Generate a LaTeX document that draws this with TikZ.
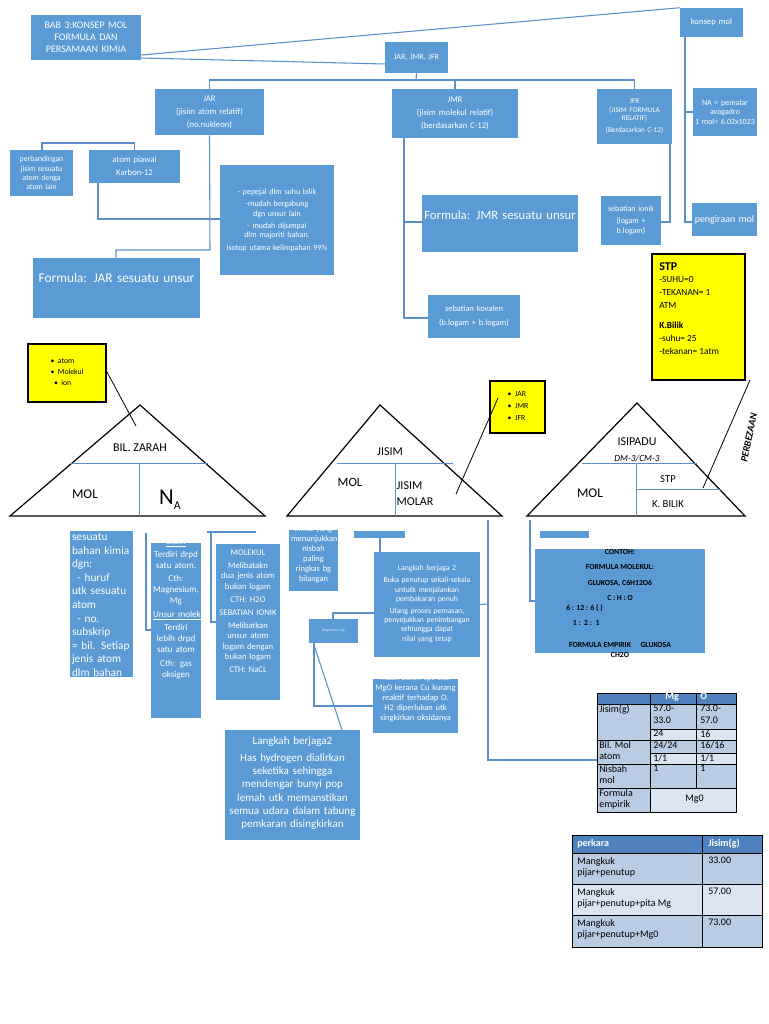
\documentclass[tikz,border=0pt]{standalone}
\usepackage{fontspec}
\setmainfont{Carlito}
\definecolor{bl}{HTML}{5B9BD5}
\definecolor{ln}{HTML}{5B8FC9}
\definecolor{hd}{HTML}{4F81BD}
\definecolor{r1}{HTML}{B8CCE4}
\definecolor{r2}{HTML}{DBE5F1}
\definecolor{yl}{HTML}{FFFF00}
% \bx{name}{x1}{y1}{x2}{y2}{textY}{fontsize}{text}{extra node options}
\newcommand\bx[9]{%
  \node[fill=bl,inner sep=0,minimum width={(#4-#2)*0.75pt},minimum height={(#5-#3)*0.75pt}] (#1) at ({(#2+#4)/2},{(#3+#5)/2}) {};
  \begin{scope}\clip (#2,#3) rectangle (#4,#5);
  \node[white,align=center,text width={(#4-#2-4)*0.75pt},inner sep=0,font={\fontsize{#7pt}{\dimexpr #7pt*6/5\relax}\selectfont\hyphenpenalty=10000\relax\exhyphenpenalty=10000\relax},#9] (#1t) at ({(#2+#4)/2},#6) {#8};
  \end{scope}}
\begin{document}
\begin{tikzpicture}[x=0.75pt,y=-0.75pt,
  cn/.style={draw=ln,line width=0.8pt},
  bk/.style={draw=black,line width=0.7pt},
  tri/.style={draw=black,line width=0.9pt},
  tl/.style={font=\fontsize{9}{10}\selectfont},
  yb/.style={fill=yl,draw=black,line width=0.8pt,inner sep=0}]
\useasboundingbox (0,0) rectangle (768,1024);
% top boxes
\bx{title}{31}{15}{141}{60}{37}{7.5}{BAB 3:KONSEP MOL FORMULA DAN PERSAMAAN KIMIA}{}
\bx{konsep}{680}{8}{743}{37}{22}{6.5}{konsep mol}{}
\bx{jjj}{385}{42}{448}{73}{57}{6}{JAR, JMR, JFR}{}
\bx{jar}{155}{89}{264}{135}{112}{6.5}{JAR\\[2pt](jisim atom relatif)\\[2pt](no.nukleon)}{}
\bx{jmr}{392}{89}{518}{138}{113}{6.5}{JMR\\[2pt](jisim molekul relatif)\\[2pt](berdasarkan C-12)}{}
\bx{jfr}{597}{89}{672}{144}{116}{5.5}{JFR\\(JISIM FORMULA RELATIF)\\[2pt](Berdasarkan C-12)}{}
\bx{na}{693}{88}{757}{136}{112}{6}{NA = pemalar avogadro\\1 mol= 6.02x1023}{}
\bx{peng}{692}{203}{757}{236}{220}{7.5}{pengiraan mol}{}
\bx{perb}{10}{150}{73}{196}{173}{5.8}{perbandingan jisim sesuatu atom denga atom lain}{}
\bx{piawai}{89}{150}{180}{183}{166}{6.5}{atom piawai\\[2pt]Karbon-12}{}
\bx{pepejal}{220}{165}{334}{275}{220}{6}{- pepejal dlm suhu bilik\\[2pt]-mudah bergabung dgn unsur lain\\[2pt]- mudah dijumpai dlm majoriti bahan.\\[2pt]isotop utama kelimpahan 99\%}{}
\bx{fjar}{33}{258}{200}{318}{278}{10}{Formula: JAR sesuatu unsur}{}
\bx{fjmr}{422}{195}{578}{252}{215}{9.5}{Formula: JMR sesuatu unsur}{}
\bx{kov}{428}{295}{520}{338}{316}{6.3}{sebatian kovalen\\[3pt](b.logam + b.logam)}{}
\bx{ionik}{601}{196}{661}{245}{220}{6}{sebatian ionik\\[2pt](logam + b.logam)}{}
% top connectors
\draw[cn] (title.east|-0,55) -- (konsep.north west);
\draw[cn] (title.east|-0,58) -- (jjj.west|-0,64);
\draw[cn] (jjj.south) -- (416,80) coordinate (t1);
\draw[cn] (jar.north) |- (t1) -| (jfr.north);
\draw[cn] (jmr.north|-t1) -- (jmr.north);
\draw[cn] (685,37) -- (685,222) coordinate (k2) -- (peng.west|-k2);
\draw[cn] (685,112) -- (na.west|-0,112);
\draw[cn] (jar.south) -- (210,250) -- (116,250) -- (fjar.north-|116,0);
\draw[cn] (42,150) -- (42,143) -| (piawai.north);
\draw[cn] (98,183) -- (98,219) -- (pepejal.west|-0,219);
\draw[cn] (404,138) -- (404,318) -- (kov.west|-0,318);
\draw[cn] (404,222) -- (fjmr.west|-0,222);
\draw[cn] (jfr.south-|670,0) -- (670,222) -- (ionik.east|-0,222);
% yellow boxes
\node[yb,minimum width={93*0.75pt},minimum height={126*0.75pt}] (stp) at (698.5,317) {};
\node[anchor=north west,align=left,inner sep=0,font=\fontsize{7}{9.5}\selectfont] (stpt) at (659,262) {{\fontsize{9}{10}\selectfont\bfseries STP}\\-SUHU=0\\-TEKANAN= 1\\ATM\\[6pt]{\bfseries K.Bilik}\\-suhu= 25\\-tekanan= 1atm};
\node[yb,minimum width={78*0.75pt},minimum height={58*0.75pt}] (y1) at (67,373) {};
\node[font=\fontsize{5.8}{8.5}\selectfont,align=left,inner sep=0] (y1t) at (67,372) {\textbullet\ \ atom\\\textbullet\ \ Molekul\\ \ \ \textbullet\ \ ion};
\node[yb,minimum width={55*0.75pt},minimum height={52*0.75pt}] (y2) at (517.5,407) {};
\node[font=\fontsize{5.8}{9}\selectfont,align=left,inner sep=0] (y2t) at (518,406) {\textbullet\ \ JAR\\\textbullet\ \ JMR\\\textbullet\ \ JFR};
% triangles
\draw[tri] (140,405) coordinate (a1) -- (265,516) -- (10,516) -- cycle;
\draw[ln,line width=0.7pt] (70,463) -- (208,463); \draw[ln,line width=0.7pt] (139,463) -- (139,516);
\node[tl] (bz) at (140,448) {BIL. ZARAH};
\node[font=\fontsize{10}{12}\selectfont] (m1) at (85,494) {MOL};
\node[font=\fontsize{17}{18}\selectfont] (nA) at (170,500) {N\raisebox{-4pt}{\fontsize{9}{10}\selectfont A}};
\draw[line width=0.6pt] (107,372) -- (136,426);
\draw[tri] (380,405) -- (502,516) -- (287,516) -- cycle;
\draw[ln,line width=0.7pt] (337,463) -- (453,463); \draw[ln,line width=0.7pt] (395,463) -- (395,516);
\node[tl] (js) at (390,452) {JISIM};
\node[font=\fontsize{9.5}{11}\selectfont] (m2) at (350,482) {MOL};
\node[font=\fontsize{9}{12}\selectfont,align=left] (jm) at (415,494) {JISIM\\MOLAR};
\draw[line width=0.6pt] (498,398) -- (456,494);
\draw[tri] (637,403) -- (745,516) -- (527,516) -- cycle;
\draw[ln,line width=0.7pt] (582,463) -- (697,463); \draw[ln,line width=0.7pt] (636,463) -- (636,516);
\draw[ln,line width=0.7pt] (636,489) -- (721,489);
\node[tl] (isi) at (637,442) {ISIPADU};
\node[font=\itshape\fontsize{7}{8}\selectfont] (dm) at (637,459) {DM-3/CM-3};
\node[font=\fontsize{10}{12}\selectfont] (m3) at (590,493) {MOL};
\node[font=\fontsize{8}{10}\selectfont] (stpl) at (668,479) {STP};
\node[font=\fontsize{8}{10}\selectfont] (kb) at (668,504) {K. BILIK};
\node[rotate=78,font=\bfseries\itshape\fontsize{7.5}{9}\selectfont] (pb) at (749,438) {PERBEZAAN};
\draw[line width=0.6pt] (750,380) -- (703,488);
% lower boxes
\bx{ses}{70}{531}{133}{677}{533}{8.5}{sesuatu bahan kimia dgn:\\\hspace*{4pt}- huruf utk sesuatu atom\\\hspace*{4pt}- no. subskrip = bil. Setiap jenis atom dlm bahan}{align=left,anchor=north}
\bx{atm}{151}{543}{201}{718}{538}{6.8}{\underline{atom}\\[2pt]Terdiri drpd satu atom.\\[2pt]Cth: Magnesium, Mg\\[2pt]\underline{Unsur molekul}\\[2pt]Terdiri lebih drpd satu atom\\[2pt]Cth: gas oksigen}{anchor=north}
\bx{seb}{216}{544}{280}{700}{539}{6.5}{SEBATIAN MOLEKUL\\[2pt]Melibatakn dua jenis atom bukan logam\\[2pt]CTH: H2O\\[2pt]SEBATIAN IONIK\\[2pt]Melibatkan unsur atom logam dengan bukan logam\\[2pt]CTH: NaCL}{anchor=north}
\bx{kim}{289}{530}{338}{591}{525}{6.3}{kimia yang menunjukkan nisbah paling ringkas bg bilangan}{anchor=north}
\bx{sm1}{354}{531}{405}{538}{534}{3}{}{}
\bx{lk2}{374}{552}{480}{657}{604}{5.8}{Langkah berjaga 2\\[2pt]Buka penutup sekali-sekala untutk menjalankan pembakaran penuh\\[2pt]Ulang proses pemasan, penyejukkan penimbangan sehiungga dapat nilai yang tetap}{}
\bx{eks}{309}{619}{358}{643}{631}{2.5}{Eksperimen Cu0}{}
\bx{tdk}{373}{679}{458}{733}{674}{6.3}{Tidak boleh spt eks. MgO kerana Cu kurang reaktif terhadap O. H2 diperlukan utk singkirkan oksidanya}{anchor=north}
\bx{lkb}{225}{730}{360}{840}{783}{8.3}{Langkah berjaga2\\[3pt]Has hydrogen dialirkan seketika sehingga mendengar bunyi pop lemah utk memanstikan semua udara dalam tabung pemkaran disingkirkan}{}
\bx{sm2}{540}{531}{589}{538}{534}{3}{}{}
\node[fill=bl,inner sep=0,minimum width={170*0.75pt},minimum height={104*0.75pt}] (cth) at (620,601) {};
\node[font=\bfseries\fontsize{5.8}{11.5}\selectfont,align=center,inner sep=0] (ctht) at (620,575) {CONTOH:\\FORMULA MOLEKUL:\\GLUKOSA, C6H12O6\\C : H : O};
\node[font=\bfseries\fontsize{5.8}{11.5}\selectfont,align=left,anchor=north west,inner sep=0] (cthb) at (566,604) {6 : 12 : 6 ( )\\\hspace*{5pt}1 :\ \ 2 :\ \ 1};
\node[font=\bfseries\fontsize{5.8}{8}\selectfont,align=center,inner sep=0] (cthe) at (620,650) {FORMULA EMPIRIK\quad\ GLUKOSA\\CH2O};
% lower connectors
\draw[cn] (146,533) -- (146,630) -- (151,630);
\draw[cn] (207,532) -- (256,532);
\draw[cn] (211,532) -- (211,622) -- (216,622);
\draw[cn] (380,538) -- (lk2.north-|380,0);
\draw[cn] (lk2.east) -- (488,604);
\draw[cn] (488,520) -- (488,760) -- (597,760);
\draw[cn] (333,619) -- (333,613) -- (lk2.west|-0,613);
\draw[cn] (314,643) -- (314,706) -- (tdk.west|-0,706);
\draw[cn] (314,645) -- (342,730);
\draw[cn] (530,520) -- (530,601) -- (cth.west|-0,601);
% table 1
\fill[hd] (597,693) rectangle (736,704);
\fill[r1] (597,704) rectangle (650,812);
\fill[r1] (650,704) rectangle (736,729); \fill[r2] (650,729) rectangle (736,740);
\fill[r1] (650,740) rectangle (736,753); \fill[r2] (650,753) rectangle (736,764);
\fill[r1] (650,764) rectangle (736,788); \fill[r2] (650,788) rectangle (736,812);
\draw[bk] (597,693) rectangle (736,812);
\draw[bk] (597,704) -- (736,704) (597,764) -- (736,764) (597,788) -- (736,788) (597,740) -- (736,740);
\draw[bk] (650,729) -- (736,729) (650,753) -- (736,753);
\draw[bk] (650,693) -- (650,812) (696,693) -- (696,788);
\begin{scope}[every node/.style={font=\fontsize{7.5}{8.5}\selectfont,anchor=north west,inner sep=0,align=left}]
\node[white,font=\bfseries\fontsize{7.5}{8.5}\selectfont] (h1) at (665,693) {Mg};
\node[white,font=\bfseries\fontsize{7.5}{8.5}\selectfont] (h2) at (700,693) {O};
\node (c1) at (599,705) {Jisim(g)};
\node (c2) at (653,705) {57.0-\\33.0};
\node (c3) at (700,705) {73.0-\\57.0};
\node (c4) at (653,730) {24};
\node (c5) at (700,730) {16};
\node (c6) at (599,741) {Bil. Mol\\atom};
\node (c7) at (653,741) {24/24};
\node (c8) at (700,741) {16/16};
\node (c9) at (653,754) {1/1};
\node (c10) at (700,754) {1/1};
\node (c11) at (599,765) {Nisbah\\mol};
\node (c12) at (653,765) {1};
\node (c13) at (700,765) {1};
\node (c14) at (599,789) {Formula\\empirik};
\node (c15) at (685,795) {Mg0};
\end{scope}
% table 2
\fill[hd] (572,835) rectangle (762,853);
\fill[r1] (572,853) rectangle (762,884);
\fill[r2] (572,884) rectangle (762,915);
\fill[r1] (572,915) rectangle (762,947);
\draw[bk] (572,835) rectangle (762,947);
\draw[bk] (572,853) -- (762,853) (572,884) -- (762,884) (572,915) -- (762,915) (702,835) -- (702,947);
\begin{scope}[every node/.style={font=\fontsize{7.5}{8.5}\selectfont,anchor=north west,inner sep=0,align=left}]
\node[white,font=\bfseries\fontsize{7.5}{8.5}\selectfont] (p1) at (577,839) {perkara};
\node[white,font=\bfseries\fontsize{7.5}{8.5}\selectfont] (p2) at (708,839) {Jisim(g)};
\node (p3) at (577,857) {Mangkuk\\pijar+penutup};
\node (p4) at (708,857) {33.00};
\node (p5) at (577,888) {Mangkuk\\pijar+penutup+pita Mg};
\node (p6) at (708,888) {57.00};
\node (p7) at (577,919) {Mangkuk\\pijar+penutup+Mg0};
\node (p8) at (708,919) {73.00};
\end{scope}
\end{tikzpicture}
\end{document}
